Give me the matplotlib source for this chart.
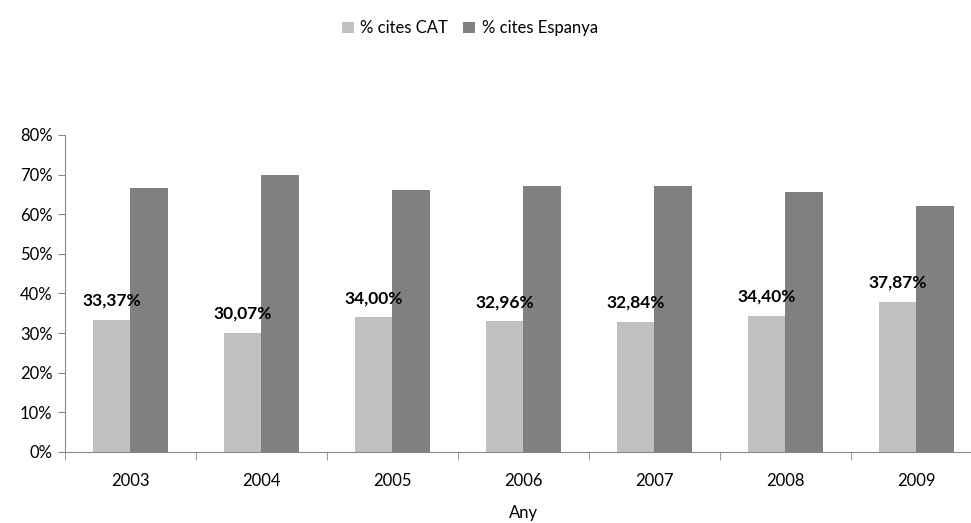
import numpy as np
import matplotlib.pyplot as plt
from matplotlib.ticker import FixedLocator

years = ['2003', '2004', '2005', '2006', '2007', '2008', '2009']
cat_pct = [33.37, 30.07, 34.00, 32.96, 32.84, 34.40, 37.87]
esp_pct = [66.63, 69.93, 66.00, 67.04, 67.16, 65.60, 62.13]
yticks = [0, 10, 20, 30, 40, 50, 60, 70, 80]

plt.rcParams['font.family'] = ['Lato', 'DejaVu Sans']

fig = plt.figure(figsize=(9.71, 5.23), dpi=100)
ax = fig.add_axes([0.0669, 0.1358, 0.944, 0.6061])

x = np.arange(len(years))
w = 0.286
ax.bar(x - w / 2, cat_pct, w, color='#c0c0c0', label='% cites CAT')
ax.bar(x + w / 2, esp_pct, w, color='#808080', label='% cites Espanya')

for xi, v in zip(x, cat_pct):
    ax.annotate(f'{v:.2f}%'.replace('.', ','), (xi - w / 2, v), xytext=(0, 8),
                textcoords='offset points', ha='center', va='bottom',
                fontsize=12.5, fontweight='bold', color='black')

ax.set_xlim(-0.5, len(years) - 0.5)
ax.set_ylim(0, 80)
ax.set_yticks(yticks)
ax.set_yticklabels([f'{t}%' for t in yticks], fontsize=12)
ax.set_xticks(x)
ax.set_xticklabels(years, fontsize=12)
ax.xaxis.set_minor_locator(FixedLocator(np.arange(-0.5, len(years), 1)))
ax.tick_params(axis='x', which='major', length=0, pad=15)
ax.tick_params(axis='x', which='minor', length=6, color='#888888')
ax.tick_params(axis='y', length=5, color='#888888', pad=4)
ax.set_xlabel('Any', fontsize=12, labelpad=12)

for s in ['top', 'right']:
    ax.spines[s].set_visible(False)
for s in ['left', 'bottom']:
    ax.spines[s].set_color('#888888')

fig.legend(loc='upper center', bbox_to_anchor=(0.484, 0.99), ncol=2, frameon=False,
           fontsize=12, handlelength=0.7, handleheight=0.7, handletextpad=0.4,
           columnspacing=0.9)

fig.savefig('out.png', dpi=100)
